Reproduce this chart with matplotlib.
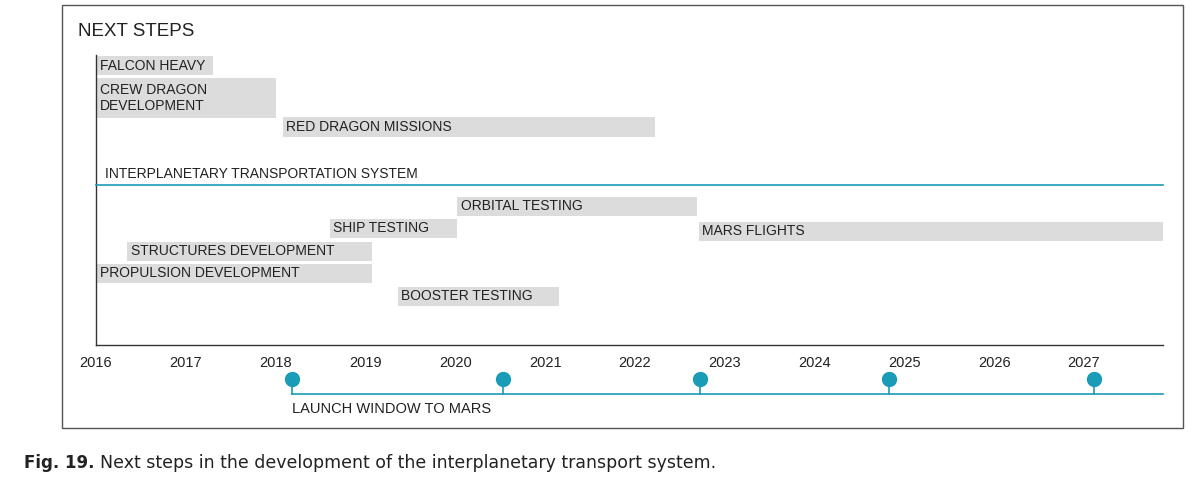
import matplotlib.pyplot as plt
from matplotlib.patches import Rectangle

plt.rcParams['font.family'] = ['Liberation Sans', 'DejaVu Sans']

# tasks: name, start year, end year, row top (px), row height (px)
task_names = ["FALCON HEAVY", "CREW DRAGON\nDEVELOPMENT", "RED DRAGON MISSIONS",
              "ORBITAL TESTING", "SHIP TESTING", "MARS FLIGHTS",
              "STRUCTURES DEVELOPMENT", "PROPULSION DEVELOPMENT", "BOOSTER TESTING"]
task_start = [2016.0, 2016.0, 2018.08, 2020.02, 2018.6, 2022.71, 2016.35, 2016.0, 2019.36]
task_end = [2017.3, 2018.0, 2022.22, 2022.69, 2020.02, 2027.88, 2019.07, 2019.07, 2021.15]
task_row = [66, 98, 127, 206, 228, 231, 251, 273, 296]
task_height = [19, 40, 20, 19, 19, 19, 19, 19, 19]

years = list(range(2016, 2028))
launch_windows = [2018.18, 2020.53, 2022.72, 2024.83, 2027.11]

W, H = 1200, 494
px_per_year = (1084 - 96) / 11
x0 = 2016 - 96 / px_per_year
x1 = 2016 + (W - 96) / px_per_year
end_year = 2016 + (1163 - 96) / px_per_year
blue = "#1a9bb8"
gray = "#dcdcdc"

fig = plt.figure(figsize=(W / 100, H / 100), dpi=100)
ax = fig.add_axes([0, 0, 1, 1])
ax.set_xlim(x0, x1)
ax.set_ylim(H, 0)
ax.axis("off")

def px(x):
    return x0 + x / px_per_year

ax.add_patch(Rectangle((px(62), 5), (1183 - 62) / px_per_year, 423,
                       fill=False, edgecolor="#555555", linewidth=1))
ax.text(px(78), 31, "NEXT STEPS", fontsize=13.5, va="center", color="#222222")

# axes lines
ax.plot([2016, 2016], [55, 345], color="#333333", lw=1)
ax.plot([2016, end_year], [345, 345], color="#333333", lw=1)

for name, s, e, r, h in zip(task_names, task_start, task_end, task_row, task_height):
    ax.barh(r, e - s, left=s, height=h, color=gray, edgecolor="none")
    ax.text(s + 0.04, r, name, fontsize=10, va="center", color="#222222",
            linespacing=1.1)

ax.plot([2016, end_year], [185, 185], color=blue, lw=1.2)
ax.text(2016.1, 174, "INTERPLANETARY TRANSPORTATION SYSTEM", fontsize=10,
        va="center", color="#222222")

for y in years:
    ax.text(y, 363, str(y), fontsize=10.5, ha="center", va="center", color="#222222")

ax.plot([launch_windows[0], end_year], [394, 394], color=blue, lw=1.2)
for lw_year in launch_windows:
    ax.plot([lw_year, lw_year], [379, 394], color=blue, lw=1.2)
    ax.plot(lw_year, 379, "o", color=blue, markersize=10)
ax.text(launch_windows[0], 409, "LAUNCH WINDOW TO MARS", fontsize=10.5,
        va="center", color="#222222")

ax.text(px(24), 463, "Fig. 19.", fontsize=12, fontweight="bold", va="center",
        color="#222222", family="DejaVu Sans")
ax.text(px(100), 463, "Next steps in the development of the interplanetary transport system.",
        fontsize=12.5, va="center", color="#222222", family="DejaVu Sans")

fig.savefig("out.png", dpi=100)
